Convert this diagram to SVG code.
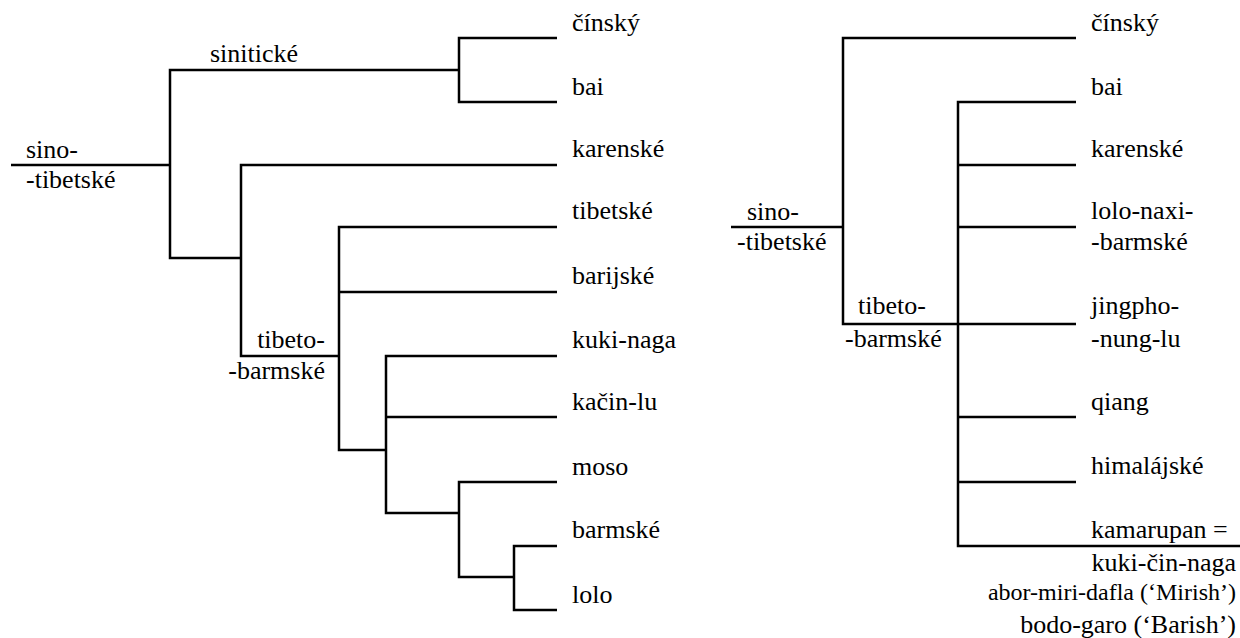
<svg xmlns="http://www.w3.org/2000/svg" width="1240" height="638" viewBox="0 0 1240 638">
<style>
.ln{fill:none;stroke:#000;stroke-width:2.5;stroke-linecap:butt;stroke-linejoin:miter}
.sm{font-size:24px}
.e{text-anchor:end}
</style>
<rect width="1240" height="638" fill="#fff"/>
<g id="connectors">
<path class="ln" d="M11,165 H170"/>
<path class="ln" d="M459,70 H170 V258 H241"/>
<path class="ln" d="M557,38 H459 V102 H557"/>
<path class="ln" d="M557,165 H241 V356 H339"/>
<path class="ln" d="M557,227 H339 V450 H386"/>
<path class="ln" d="M339,292 H557"/>
<path class="ln" d="M557,356 H386 V513 H459"/>
<path class="ln" d="M386,417 H557"/>
<path class="ln" d="M557,482 H459 V577 H514"/>
<path class="ln" d="M557,546 H514 V610 H557"/>
<path class="ln" d="M731,227 H843"/>
<path class="ln" d="M1076,38 H843 V324 H1076"/>
<path class="ln" d="M1076,102 H958 V546 H1240"/>
<path class="ln" d="M958,165 H1076"/>
<path class="ln" d="M958,227 H1076"/>
<path class="ln" d="M958,417 H1076"/>
<path class="ln" d="M958,482 H1076"/>
</g>
<g font-family="Liberation Serif, Times New Roman, Times, serif" font-size="26" fill="#000">
<g id="l-root"><text x="26" y="158">sino-</text><text x="26" y="188">-tibetské</text></g>
<g id="l-sinitic"><text x="210" y="62">sinitické</text></g>
<g id="l-tb"><text class="e" x="325" y="348">tibeto-</text><text class="e" x="325" y="379">-barmské</text></g>
<g id="l-cinsky"><text x="572" y="31">čínský</text></g>
<g id="l-bai"><text x="572" y="95">bai</text></g>
<g id="l-karenske"><text x="572" y="157">karenské</text></g>
<g id="l-tibetske"><text x="572" y="219">tibetské</text></g>
<g id="l-barijske"><text x="572" y="284">barijské</text></g>
<g id="l-kukinaga"><text x="572" y="348">kuki-naga</text></g>
<g id="l-kacinlu"><text x="572" y="410">kačin-lu</text></g>
<g id="l-moso"><text x="572" y="475">moso</text></g>
<g id="l-barmske"><text x="572" y="538">barmské</text></g>
<g id="l-lolo"><text x="572" y="603">lolo</text></g>
<g id="r-root"><text x="747" y="220">sino-</text><text x="737" y="250">-tibetské</text></g>
<g id="r-tb"><text x="858" y="314">tibeto-</text><text x="845" y="347">-barmské</text></g>
<g id="r-cinsky"><text x="1091" y="31">čínský</text></g>
<g id="r-bai"><text x="1091" y="95">bai</text></g>
<g id="r-karenske"><text x="1091" y="157">karenské</text></g>
<g id="r-lolonaxi"><text x="1091" y="219">lolo-naxi-</text><text x="1091" y="250">-barmské</text></g>
<g id="r-jingpho"><text x="1091" y="314">jingpho-</text><text x="1091" y="347">-nung-lu</text></g>
<g id="r-qiang"><text x="1091" y="410">qiang</text></g>
<g id="r-himalajske"><text x="1091" y="474">himalájské</text></g>
<g id="r-kamarupan"><text x="1091" y="538">kamarupan =</text><text class="e" x="1236" y="571">kuki-čin-naga</text><text class="e sm" x="1236" y="600">abor-miri-dafla (‘Mirish’)</text><text class="e" x="1236" y="633">bodo-garo (‘Barish’)</text></g>
</g>
</svg>
